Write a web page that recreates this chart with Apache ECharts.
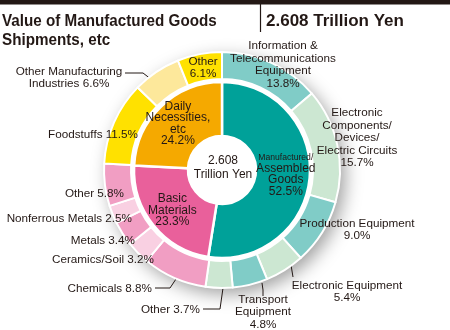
<!DOCTYPE html>
<html>
<head>
<meta charset="utf-8">
<script src="https://cdn.jsdelivr.net/npm/echarts@6/dist/echarts.min.js"></script>
<style>
  html, body { margin: 0; padding: 0; background: #fff; }
  #chart { width: 450px; height: 330px; }
</style>
</head>
<body>
<div id="chart"></div>
<script>
// ---- data: shares of the total, in percent ----
const totalText = '2.608\nTrillion Yen';

const sectorNames = ['Manufactured/\nAssembled\nGoods', 'Basic\nMaterials', 'Daily\nNecessities,\netc'];
const sectorShares = [52.5, 23.3, 24.2];

const industryNames = [
  'Information &\nTelecommunications\nEquipment',
  'Electronic\nComponents/\nDevices/\nElectric Circuits',
  'Production Equipment',
  'Electronic Equipment',
  'Transport\nEquipment',
  'Other',
  'Chemicals',
  'Ceramics/Soil',
  'Metals',
  'Nonferrous Metals',
  'Other',
  'Foodstuffs',
  'Other Manufacturing\nIndustries',
  'Other'
];
const industryShares = [13.8, 15.7, 9.0, 5.4, 4.8, 3.7, 8.8, 3.2, 3.4, 2.5, 5.8, 11.5, 6.6, 6.1];

// ---- styling ----
const ink = '#231815';
const font = 'Liberation Sans, Arial, sans-serif';
const sectorColors = ['#00a199', '#e9609b', '#f5a900'];
const industryColors = [
  '#80ccc7', '#cce7d2', '#80ccc7', '#cce7d2', '#80ccc7', '#cce7d2',
  '#f19ec3', '#f9d0e2', '#f19ec3', '#f9d0e2', '#f19ec3',
  '#ffe100', '#fde89b', '#ffe100'
];
const CENTER = [222, 170];

// where each outer label sits: anchor point, alignment, how name and value join, optional leader line
const outerSpots = [
  { x: 283, y: 65,  align: 'center', sep: '\n' },
  { x: 357, y: 138, align: 'center', sep: '\n' },
  { x: 357, y: 230, align: 'center', sep: '\n' },
  { x: 347, y: 292, align: 'center', sep: '\n', line: [[291, 265], [292, 271], [293, 277]] },
  { x: 263, y: 312, align: 'center', sep: '\n', line: [[262, 283], [263, 290], [263, 296]] },
  { x: 200, y: 310, align: 'right',  sep: ' ',  line: [[223, 288], [220, 309], [203, 309]] },
  { x: 152, y: 289, align: 'right',  sep: ' ',  line: [[178, 276], [170, 288], [155, 288]] },
  { x: 154, y: 260, align: 'right',  sep: ' ' },
  { x: 135, y: 241, align: 'right',  sep: ' ' },
  { x: 132, y: 219, align: 'right',  sep: ' ' },
  { x: 124, y: 194, align: 'right',  sep: ' ' },
  { x: 138, y: 135, align: 'right',  sep: ' ' },
  { x: 69,  y: 78,  align: 'center', sep: ' ',  line: [[156, 83], [143, 73], [125, 73]] },
  { x: 203, y: 68,  align: 'center', sep: '\n' }
];

const pct = v => v.toFixed(1) + '%';

const sectorData = sectorNames.map((n, i) => ({
  name: n,
  value: sectorShares[i],
  itemStyle: { color: sectorColors[i] }
}));

const industryData = industryNames.map((n, i) => ({
  name: n,
  value: industryShares[i],
  itemStyle: { color: industryColors[i] },
  labelLine: { show: !!outerSpots[i].line }
}));

const chart = echarts.init(document.getElementById('chart'), null, { renderer: 'canvas' });

chart.setOption({
  animation: false,
  backgroundColor: '#fff',
  graphic: [
    { type: 'rect', shape: { x: 0, y: 0, width: 450, height: 4.5 }, style: { fill: ink } },
    { type: 'line', shape: { x1: 260.5, y1: 4, x2: 260.5, y2: 32 }, style: { stroke: ink, lineWidth: 1.2 } },
    {
      // narrow heading, squeezed horizontally
      type: 'group', x: 2, y: 12, scaleX: 0.895, scaleY: 1,
      children: [{
        type: 'text', x: 0, y: 0,
        style: {
          text: 'Value of Manufactured Goods\nShipments, etc',
          fontFamily: font, fontWeight: 'bold', fontSize: 17, lineHeight: 19,
          fill: ink, align: 'left', verticalAlign: 'top'
        }
      }]
    },
    {
      type: 'text', x: 266, y: 12,
      style: {
        text: '2.608 Trillion Yen',
        fontFamily: font, fontWeight: 'bold', fontSize: 17, lineHeight: 19,
        fill: ink, align: 'left', verticalAlign: 'top'
      }
    },
    {
      type: 'text', x: CENTER[0] + 1, y: CENTER[1] - 2, z: 100,
      style: {
        text: totalText, fontFamily: font, fontSize: 12, lineHeight: 14,
        fill: ink, align: 'center', verticalAlign: 'middle'
      }
    }
  ],
  series: [
    {
      // soft drop shadow behind the whole ring
      type: 'pie', silent: true, center: CENTER, radius: [0, 118], z: 1,
      label: { show: false }, labelLine: { show: false },
      itemStyle: {
        color: '#fff', shadowBlur: 18, shadowColor: 'rgba(0,0,0,0.38)',
        shadowOffsetX: 5, shadowOffsetY: 6
      },
      data: [{ value: 1, name: '' }]
    },
    {
      type: 'pie', silent: true, center: CENTER, radius: [91, 118], z: 2,
      startAngle: 90, clockwise: true, avoidLabelOverlap: false,
      itemStyle: { borderColor: '#fff', borderWidth: 2 },
      label: {
        show: true, position: 'outside', color: ink, fontFamily: font,
        fontSize: 11.7, lineHeight: 12.5,
        formatter: p => p.name + outerSpots[p.dataIndex].sep + pct(p.value)
      },
      labelLine: { show: true, length: 5, length2: 5, lineStyle: { color: ink, width: 1 } },
      labelLayout: p => {
        const s = outerSpots[p.dataIndex];
        const out = { x: s.x, y: s.y, align: s.align, verticalAlign: 'middle' };
        if (s.line) out.labelLinePoints = s.line;
        return out;
      },
      data: industryData
    },
    {
      type: 'pie', silent: true, center: CENTER, radius: [34, 88], z: 3,
      startAngle: 90, clockwise: true,
      itemStyle: { borderColor: '#fff', borderWidth: 2.5 },
      label: {
        show: true, position: 'inside', color: ink, fontFamily: font,
        fontSize: 12, lineHeight: 11.5,
        formatter: p => {
          const lines = p.name.split('\n');
          if (p.dataIndex === 0) {
            return '{s|' + lines[0] + '}\n' + lines.slice(1).join('\n') + '\n' + pct(p.value);
          }
          return p.name + '\n' + pct(p.value);
        },
        rich: { s: { fontSize: 8.6, fontFamily: font, color: ink, lineHeight: 10 } }
      },
      labelLine: { show: false },
      data: sectorData
    }
  ]
});
</script>
</body>
</html>
